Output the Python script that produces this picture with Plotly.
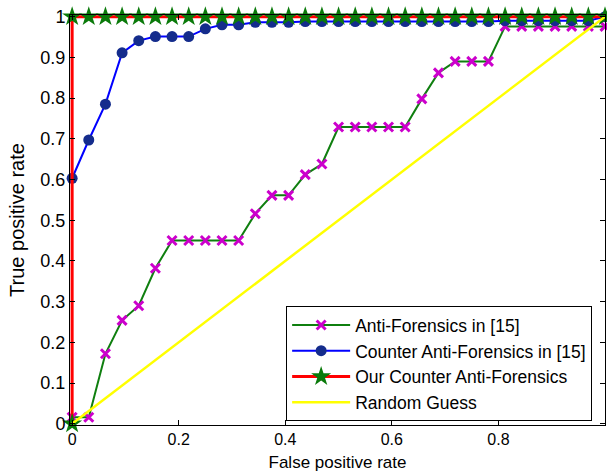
import plotly.graph_objects as go

# False positive rate grid (shared by the measured curves)
fpr = [0.0, 0.03125, 0.0625, 0.09375, 0.125, 0.15625, 0.1875, 0.21875, 0.25,
       0.28125, 0.3125, 0.34375, 0.375, 0.40625, 0.4375, 0.46875, 0.5,
       0.53125, 0.5625, 0.59375, 0.625, 0.65625, 0.6875, 0.71875, 0.75,
       0.78125, 0.8125, 0.84375, 0.875, 0.90625, 0.9375, 0.96875, 1.0]

# Anti-Forensics in [15]
tpr_af = [0.016, 0.016, 0.172, 0.254, 0.29, 0.382, 0.45, 0.45, 0.45, 0.45, 0.45,
          0.516, 0.561, 0.561, 0.612, 0.638, 0.729, 0.729, 0.729, 0.729, 0.729,
          0.798, 0.862, 0.89, 0.89, 0.89, 0.976, 0.976, 0.976, 0.976, 0.976,
          0.976, 0.976]

# Counter Anti-Forensics in [15]
tpr_caf = [0.603, 0.697, 0.785, 0.911, 0.941, 0.951, 0.951, 0.951, 0.97, 0.98,
           0.98, 0.986, 0.986, 0.986, 0.988, 0.988, 0.988, 0.988, 0.988, 0.988,
           0.988, 0.988, 0.988, 0.988, 0.988, 0.988, 0.99, 0.99, 0.99, 0.99,
           0.99, 0.99, 1.0]

# Our Counter Anti-Forensics
fpr_ours = [0.0] + fpr
tpr_ours = [0.0] + [1.0] * len(fpr)

# Random guess
fpr_rand = [0.0, 1.0]
tpr_rand = [0.0, 1.0]

names = ["Anti-Forensics in [15]", "Counter Anti-Forensics in [15]",
         "Our Counter Anti-Forensics", "Random Guess"]

x_ticks = [0, 0.2, 0.4, 0.6, 0.8, 1]
x_ticktext = ["0", "0.2", "0.4", "0.6", "0.8", "1"]
y_ticks = [0, 0.1, 0.2, 0.3, 0.4, 0.5, 0.6, 0.7, 0.8, 0.9, 1]
y_ticktext = ["0", "0.1", "0.2", "0.3", "0.4", "0.5", "0.6", "0.7", "0.8", "0.9", "1"]

FONT = "Liberation Sans, Arial, sans-serif"

fig = go.Figure()
fig.add_trace(go.Scatter(
    x=fpr, y=tpr_af, name=names[0], mode="lines+markers",
    line=dict(color="#0F7F0F", width=2),
    marker=dict(symbol="x-thin", size=9, color="#CC00CC",
                line=dict(color="#CC00CC", width=3)),
    cliponaxis=False, legendgroup="a"))
fig.add_trace(go.Scatter(
    x=fpr, y=tpr_caf, name=names[1], mode="lines+markers",
    line=dict(color="#0000FF", width=2),
    marker=dict(symbol="circle", size=11, color="#142C8C",
                line=dict(color="#142C8C", width=0)),
    cliponaxis=False, legendgroup="b"))
fig.add_trace(go.Scatter(
    x=fpr_ours, y=tpr_ours, name=names[2], mode="lines+markers",
    line=dict(color="#FF0000", width=3),
    marker=dict(symbol="star", size=15, color="#0A7A0A",
                line=dict(color="#0A7A0A", width=0)),
    cliponaxis=False, legendgroup="c"))
fig.add_trace(go.Scatter(
    x=fpr_rand, y=tpr_rand, name=names[3], mode="lines",
    line=dict(color="#FFFF00", width=2.5),
    legendgroup="d"))

axis_common = dict(
    showgrid=False, zeroline=False, showline=True, linecolor="black",
    linewidth=1, mirror="ticks", ticks="inside", ticklen=5,
    tickcolor="black",
)

fig.update_xaxes(range=[-0.004, 1.0], tickvals=x_ticks, ticktext=x_ticktext,
                 tickfont=dict(family=FONT, size=16, color="black"),
                 title=dict(text="False positive rate",
                            font=dict(family=FONT, size=17, color="black"),
                            standoff=8),
                 **axis_common)
fig.update_yaxes(range=[-0.003, 1.004], tickvals=y_ticks, ticktext=y_ticktext,
                 tickfont=dict(family=FONT, size=18, color="black"),
                 title=dict(text="True positive rate",
                            font=dict(family=FONT, size=20, color="black"),
                            standoff=10),
                 **axis_common)

fig.update_layout(
    width=607, height=475,
    margin=dict(l=70, r=2, t=15, b=50, pad=0),
    paper_bgcolor="white", plot_bgcolor="white",
    showlegend=True,
    legend=dict(x=0.404, y=0.29, xanchor="left", yanchor="top",
                bgcolor="white", bordercolor="black", borderwidth=1,
                font=dict(family=FONT, size=17.5, color="black"),
                tracegroupgap=0, itemwidth=58),
)

fig.write_html("out.html")
